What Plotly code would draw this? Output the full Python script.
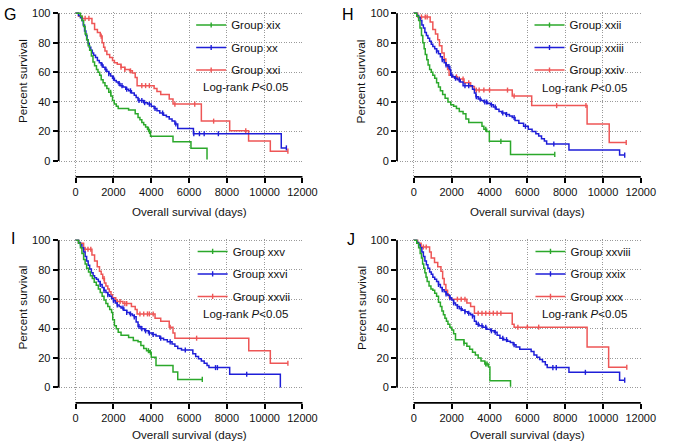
import plotly.graph_objects as go

W, H = 677, 448
FONT = "Liberation Sans, Arial, sans-serif"
GREEN, BLUE, RED = "#2ba82b", "#1e1ed8", "#ee5656"

x_ticks = [0, 2000, 4000, 6000, 8000, 10000, 12000]
y_ticks = [0, 20, 40, 60, 80, 100]
panel_letters = ["G", "H", "I", "J"]
x_title = "Overall survival (days)"
y_title = "Percent survival"
logrank_text = "Log-rank <i>P</i>&lt;0.05"

# ---------------- Panel G ----------------
g_xix_name = "Group xix"
g_xix_t = [0, 250, 330, 420, 500, 580, 660, 740, 830, 915, 1000, 1100, 1180, 1270, 1350, 1450, 1550, 1650, 1750, 1860, 1950, 2040, 2150, 2250, 2800, 3150, 3300, 3400, 3500, 3600, 3700, 3800, 3870, 3960, 5150, 6100, 6950]
g_xix_s = [100, 98, 95, 91, 86, 82, 78, 75, 71, 67, 64.5, 62, 60, 58, 55, 53, 51, 49, 46.5, 44, 41, 38.5, 37, 35.5, 34.5, 32, 29.5, 28, 26, 24.5, 23, 21.5, 20, 16.7, 13, 8.7, 1]
g_xix_end = 6950
g_xix_cens = [1850, 3850, 3910]

g_xx_name = "Group xx"
g_xx_t = [0, 150, 250, 330, 400, 470, 540, 600, 660, 720, 800, 880, 950, 1050, 1150, 1250, 1350, 1450, 1550, 1650, 1750, 1850, 1950, 2050, 2150, 2250, 2350, 2500, 2650, 2800, 2950, 3100, 3200, 3300, 3600, 3800, 4000, 4150, 4300, 4450, 4650, 4800, 4950, 5100, 5250, 5400, 6230, 10880]
g_xx_s = [100, 98.5, 97, 95, 92, 88, 85, 82, 79.5, 77, 75, 73, 71.5, 70, 68, 66.5, 65, 63.5, 62, 60.5, 59, 57.5, 56, 54.5, 53.5, 52.5, 51, 50, 48.5, 47.5, 46, 44.5, 43, 41, 39.5, 38.5, 37, 35.5, 34, 32.5, 31, 30, 28.5, 27, 25, 22, 18.5, 8.9]
g_xx_end = 11150
g_xx_cens = [1400, 1600, 1750, 2000, 2300, 2450, 2700, 2900, 3350, 3500, 3650, 3900, 4200, 4600, 5300, 6250, 6550, 6800, 7550, 11150]

g_xxi_name = "Group xxi"
g_xxi_t = [0, 150, 350, 860, 1000, 1150, 1300, 1400, 1480, 1550, 1650, 1800, 1950, 2050, 2200, 2400, 2600, 2850, 3000, 3150, 3250, 4150, 4300, 4500, 4950, 5150, 6650, 8150, 9150, 10300]
g_xxi_s = [100, 98, 96.5, 93, 89, 87, 84.5, 80, 77, 74.5, 72, 70, 68, 66.5, 65.5, 63.5, 62, 61, 59.5, 56.5, 51, 49, 47, 45, 42, 38.5, 27, 20.5, 13.5, 6.7]
g_xxi_end = 11230
g_xxi_cens = [500, 700, 1350, 2400, 2600, 2900, 3500, 3700, 3900, 5250, 6300, 7300, 9000, 11230]

# ---------------- Panel H ----------------
h_xxii_name = "Group xxii"
h_xxii_t = [0, 150, 250, 320, 400, 470, 540, 600, 680, 750, 830, 920, 1000, 1100, 1200, 1300, 1400, 1520, 1650, 1800, 1950, 2100, 2250, 2400, 2600, 2750, 2900, 3600, 3700, 3850, 3990, 5110]
h_xxii_s = [100, 98, 95, 90, 85, 80, 76, 72, 68.5, 65, 62, 60, 58, 56, 53, 50, 47.5, 45, 42.5, 40, 38, 37, 35.5, 33.5, 32, 28.5, 26, 23.5, 21.5, 20, 13.3, 4.5]
h_xxii_end = 7450
h_xxii_cens = [3800, 4600, 7450]

h_xxiii_name = "Group xxiii"
h_xxiii_t = [0, 150, 250, 330, 420, 500, 580, 660, 740, 830, 920, 1000, 1100, 1200, 1300, 1400, 1500, 1600, 1700, 1800, 1900, 1950, 2050, 2150, 2300, 2450, 2600, 3100, 3200, 3280, 3400, 3550, 3700, 3900, 4050, 4200, 4350, 4500, 4650, 4850, 5050, 5200, 5350, 5550, 5800, 6050, 6250, 6450, 6600, 6750, 6900, 7020, 8200, 10880]
h_xxiii_s = [100, 98.5, 97, 95, 92, 90, 87, 85, 83, 81, 79, 77.5, 76, 74.5, 72.5, 70.5, 68.5, 66.5, 65, 64, 62, 58, 57, 56, 55, 53.5, 51, 48.5, 46, 43.5, 42, 41, 40, 39, 38, 36.5, 35, 33.5, 32.5, 31.5, 30.5, 29.5, 27.5, 25.5, 23.5, 21.5, 20, 18.5, 17, 15, 13.5, 11.5, 7.5, 4]
h_xxiii_end = 11150
h_xxiii_cens = [1200, 1500, 1700, 1850, 2000, 2200, 2400, 2700, 2900, 3300, 3500, 3750, 3850, 4100, 4300, 4700, 4900, 5300, 5900, 7400, 11150]

h_xxiv_name = "Group xxiv"
h_xxiv_t = [0, 200, 860, 1000, 1140, 1260, 1350, 1480, 1600, 1690, 1780, 1860, 2050, 2300, 2650, 3000, 3200, 5200, 6230, 9160, 10330]
h_xxiv_s = [100, 97.5, 94, 89, 86, 82, 78, 73, 69, 65, 62, 58, 57, 55.5, 53, 50.5, 48, 44, 37.5, 25, 12.5]
h_xxiv_end = 11230
h_xxiv_cens = [400, 600, 700, 2250, 2400, 2600, 2900, 3300, 3450, 3700, 4000, 4950, 5300, 7550, 9100, 11230]

# ---------------- Panel I ----------------
i_xxv_name = "Group xxv"
i_xxv_t = [0, 150, 250, 330, 420, 500, 580, 680, 780, 880, 980, 1090, 1200, 1300, 1400, 1500, 1600, 1700, 1800, 1900, 1960, 2050, 2150, 2250, 2400, 2800, 3050, 3300, 3450, 3600, 3750, 3900, 4000, 4250, 5150, 5400]
i_xxv_s = [100, 98, 95, 91, 87, 84, 81, 78.5, 76, 74, 71.5, 69.5, 67, 64.5, 62, 59.5, 57, 55, 53, 51, 46, 42, 40, 37.5, 35.5, 34, 32, 31, 28.5, 26.5, 25, 24, 20.5, 15, 10.5, 5.5]
i_xxv_end = 6700
i_xxv_cens = [3850, 3950, 6700]

i_xxvi_name = "Group xxvi"
i_xxvi_t = [0, 150, 250, 330, 420, 500, 580, 660, 740, 830, 920, 1000, 1100, 1200, 1300, 1400, 1500, 1600, 1700, 1800, 1900, 2000, 2100, 2200, 2300, 2400, 2550, 2700, 2850, 3000, 3100, 3200, 3300, 3450, 3650, 3850, 4050, 4250, 4450, 4650, 4850, 5100, 5250, 5400, 5600, 6200, 6350, 6500, 6650, 6800, 6950, 7050, 8150, 10830]
i_xxvi_s = [100, 98.5, 97, 95, 92, 89, 86, 83, 80.5, 78, 76, 74.5, 73.5, 72, 70, 68, 66, 64.5, 63, 62, 60.5, 59, 57.5, 56, 55, 54, 52.5, 51, 50, 49, 48, 44.5, 41.5, 40, 38.5, 37, 36, 35, 33.5, 32.5, 31, 29.5, 28, 26.5, 25.5, 23, 21, 19.5, 18, 16.5, 15, 13.5, 9, 0]
i_xxvi_end = 10830
i_xxvi_cens = [1300, 1500, 1700, 2000, 2200, 2500, 2700, 2900, 3100, 3350, 3500, 3700, 3900, 4100, 4500, 5000, 5800, 7400, 7500, 9050]

i_xxvii_name = "Group xxvii"
i_xxvii_t = [0, 150, 420, 860, 1000, 1140, 1260, 1350, 1430, 1520, 1600, 1700, 1780, 1870, 1950, 2120, 2500, 2950, 3150, 3250, 4200, 4500, 4950, 5150, 5250, 9160, 10300]
i_xxvii_s = [100, 98, 94, 90, 86, 82, 79, 77, 74, 71, 69, 67, 65, 63, 61, 58.5, 57, 55, 53, 50, 47, 45, 41, 37, 33.5, 25, 16.5]
i_xxvii_end = 11230
i_xxvii_cens = [500, 650, 800, 1500, 2200, 2350, 2600, 2700, 3400, 3600, 3800, 3900, 4100, 5000, 6400, 11230]

# ---------------- Panel J ----------------
j_xxviii_name = "Group xxviii"
j_xxviii_t = [0, 150, 250, 330, 400, 460, 520, 580, 640, 700, 800, 900, 1000, 1100, 1200, 1300, 1400, 1480, 1560, 1640, 1720, 1800, 1900, 2000, 2100, 2200, 2650, 2800, 2950, 3100, 3250, 3400, 3550, 3750, 3950, 4020, 5110]
j_xxviii_s = [100, 98, 95, 91, 88, 84, 81, 78, 75, 72, 69, 67, 66, 64, 62, 58, 55, 52, 49.5, 47, 45, 43, 41, 39, 36.5, 32.5, 30, 28, 26, 24, 22, 20, 18, 16, 14, 4.5, 0.5]
j_xxviii_end = 5110
j_xxviii_cens = [2650, 3800, 3870]

j_xxix_name = "Group xxix"
j_xxix_t = [0, 150, 250, 330, 420, 500, 580, 660, 740, 830, 920, 1000, 1100, 1200, 1300, 1400, 1500, 1600, 1700, 1800, 1900, 2000, 2100, 2200, 2300, 2400, 2550, 2700, 2850, 3000, 3100, 3200, 3300, 3450, 3650, 3850, 4050, 4250, 4400, 4550, 4750, 4950, 5100, 5250, 5400, 5600, 6200, 6350, 6500, 6650, 6800, 6950, 7050, 8200, 10880]
j_xxix_s = [100, 98.5, 97, 95, 92, 89, 86, 83.5, 81, 78.5, 77, 75, 73.5, 72, 70, 68, 66.5, 65, 63.5, 62.5, 61, 59.5, 57.5, 56, 55, 53.5, 52.5, 51.5, 50.5, 49.5, 48.5, 45, 43, 42, 41, 39.5, 38.5, 37.5, 35.5, 33.5, 32.5, 31.5, 30.5, 29, 27.5, 26, 24.5, 22, 20.5, 19, 17.5, 15.5, 13.5, 10.3, 5]
j_xxix_end = 11150
j_xxix_cens = [1300, 1500, 1700, 1900, 2100, 2300, 2500, 2700, 2900, 3100, 3400, 3600, 3800, 4100, 4300, 4700, 4900, 5300, 7350, 7530, 9070, 11150]

j_xxx_name = "Group xxx"
j_xxx_t = [0, 200, 380, 830, 915, 1090, 1260, 1430, 1520, 1600, 1690, 1780, 1870, 1950, 2800, 3000, 3200, 5200, 5300, 9160, 10300]
j_xxx_s = [100, 98, 95.5, 92, 88, 85, 82, 79, 74, 70, 66, 63, 61, 60, 57.5, 55, 50.5, 43, 41, 27.5, 13.8]
j_xxx_end = 11260
j_xxx_cens = [500, 650, 2300, 2500, 2700, 3400, 3600, 3800, 4000, 4200, 4400, 4600, 5500, 6000, 6600, 11260]

panels = [
    [(g_xix_name, g_xix_t, g_xix_s, g_xix_end, g_xix_cens, GREEN),
     (g_xx_name, g_xx_t, g_xx_s, g_xx_end, g_xx_cens, BLUE),
     (g_xxi_name, g_xxi_t, g_xxi_s, g_xxi_end, g_xxi_cens, RED)],
    [(h_xxii_name, h_xxii_t, h_xxii_s, h_xxii_end, h_xxii_cens, GREEN),
     (h_xxiii_name, h_xxiii_t, h_xxiii_s, h_xxiii_end, h_xxiii_cens, BLUE),
     (h_xxiv_name, h_xxiv_t, h_xxiv_s, h_xxiv_end, h_xxiv_cens, RED)],
    [(i_xxv_name, i_xxv_t, i_xxv_s, i_xxv_end, i_xxv_cens, GREEN),
     (i_xxvi_name, i_xxvi_t, i_xxvi_s, i_xxvi_end, i_xxvi_cens, BLUE),
     (i_xxvii_name, i_xxvii_t, i_xxvii_s, i_xxvii_end, i_xxvii_cens, RED)],
    [(j_xxviii_name, j_xxviii_t, j_xxviii_s, j_xxviii_end, j_xxviii_cens, GREEN),
     (j_xxix_name, j_xxix_t, j_xxix_s, j_xxix_end, j_xxix_cens, BLUE),
     (j_xxx_name, j_xxx_t, j_xxx_s, j_xxx_end, j_xxx_cens, RED)],
]

# ---------------- layout geometry (pixels) ----------------
# (y-axis line x, x=0 px, x=12000 px, y=100 px, y=0 px, x-axis line y)
geom = [
    (60.0, 77.4, 309.3, 8.3, 157.8, 173.8),
    (406.0, 423.3, 655.3, 8.3, 157.8, 173.8),
    (60.0, 77.4, 309.3, 238.0, 386.8, 402.3),
    (406.0, 423.3, 655.3, 238.0, 386.8, 402.3),
]
letter_pos = [(2, 10), (348, 10), (9, 236), (353, 237)]
ytitle_pos = [(23.5, 77), (369.5, 77), (23.5, 306), (369.5, 306)]
xtitle_py = [209, 209, 434.5, 434.5]
logrank_pos = [(205.7, 83), (552, 83.5), (205.7, 312.5), (552, 312)]
legend_pos = [(195.5, 5.5), (541.5, 5.5), (197.0, 234.5), (542.5, 234.5)]


def step_value(ts, ss, c):
    v = ss[0]
    for t, s in zip(ts, ss):
        if t <= c:
            v = s
        else:
            break
    return v


fig = go.Figure()
layout = {}
shapes = []
annotations = []

for k, groups in enumerate(panels):
    sfx = "" if k == 0 else str(k + 1)
    xa, ya = "x" + sfx, "y" + sfx
    leg = "legend" + sfx
    ypx_axis, x0px, x12px, y100px, y0px, xaxpx = geom[k]
    kx = (x12px - x0px) / 12000.0
    ky = (y0px - y100px) / 100.0
    xr = [-(x0px - ypx_axis) / kx, 12040]
    yr = [-(xaxpx - y0px) / ky, 100.8]
    xdom = [ypx_axis / W, (x0px + 12040 * kx) / W]
    ydom = [1 - xaxpx / H, 1 - (y100px - 0.8 * ky) / H]

    axis_common = dict(
        showline=False, zeroline=False, ticks="outside", ticklen=5,
        tickwidth=1.6, tickcolor="black", showgrid=True,
        gridcolor="#9a9a9a", gridwidth=1, griddash="1px,1.5px",
        tickfont=dict(family=FONT, size=11, color="#111"),
        fixedrange=True,
    )
    layout["xaxis" + sfx] = dict(axis_common, domain=xdom, range=xr, anchor=ya,
                                 tickvals=x_ticks, ticktext=[str(v) for v in x_ticks])
    layout["yaxis" + sfx] = dict(axis_common, domain=ydom, range=yr, anchor=xa,
                                 tickvals=y_ticks, ticktext=[str(v) for v in y_ticks])

    # draw order: red, blue, green (green on top)
    for name, ts, ss, end, cens, col in reversed(groups):
        xs = list(ts)
        ys = list(ss)
        if end > ts[-1]:
            xs.append(end)
            ys.append(ss[-1])
        fig.add_trace(go.Scatter(
            x=xs, y=ys, mode="lines", line=dict(color=col, width=1.5, shape="hv"),
            xaxis=xa, yaxis=ya, showlegend=False, hoverinfo="skip"))
        fig.add_trace(go.Scatter(
            x=cens, y=[step_value(ts, ss, c) for c in cens], mode="markers",
            marker=dict(symbol="line-ns-open", size=3.6, color=col,
                        line=dict(color=col, width=1.4)),
            xaxis=xa, yaxis=ya, showlegend=False, hoverinfo="skip", cliponaxis=False))
    # legend entries
    for name, ts, ss, end, cens, col in groups:
        fig.add_trace(go.Scatter(
            x=[None], y=[None], mode="lines+markers", name=name,
            line=dict(color=col, width=1.5),
            marker=dict(symbol="line-ns-open", size=3.6, color=col,
                        line=dict(color=col, width=1.4)),
            xaxis=xa, yaxis=ya, legend=leg, legendgroup=name + sfx))
    lx, ly = legend_pos[k]
    layout[leg] = dict(
        x=lx / W, y=1 - ly / H, xanchor="left", yanchor="top",
        bgcolor="rgba(0,0,0,0)", borderwidth=0, traceorder="grouped",
        tracegroupgap=3.5, font=dict(family=FONT, size=11.5, color="#111"),
        itemclick=False, itemdoubleclick=False)

    # offset axis lines (Prism style)
    xdref = xa + " domain"
    ydref = ya + " domain"
    shapes.append(dict(type="line", xref=xdref, x0=0, x1=0, yref=ya, y0=0, y1=100,
                       line=dict(color="black", width=1.8)))
    shapes.append(dict(type="line", xref=xa, x0=0, x1=12000, yref=ydref, y0=0, y1=0,
                       line=dict(color="black", width=1.8)))

    # texts
    px_, py_ = letter_pos[k]
    annotations.append(dict(text=panel_letters[k], x=px_ / W, y=1 - py_ / H,
                            xref="paper", yref="paper", xanchor="left", yanchor="middle",
                            showarrow=False, font=dict(family=FONT, size=16, color="black")))
    tx, ty = ytitle_pos[k]
    annotations.append(dict(text=y_title, x=tx / W, y=1 - ty / H, xref="paper", yref="paper",
                            xanchor="center", yanchor="middle", textangle=-90, showarrow=False,
                            font=dict(family=FONT, size=11.8, color="#111")))
    annotations.append(dict(text=x_title, x=6000, xref=xa, y=1 - xtitle_py[k] / H, yref="paper",
                            xanchor="center", yanchor="middle", showarrow=False,
                            font=dict(family=FONT, size=11.6, color="#111")))
    gx, gy = logrank_pos[k]
    annotations.append(dict(text=logrank_text, x=gx / W, y=1 - gy / H, xref="paper", yref="paper",
                            xanchor="left", yanchor="middle", showarrow=False,
                            font=dict(family=FONT, size=11.5, color="#111")))

fig.update_layout(
    width=W, height=H, margin=dict(l=0, r=0, t=0, b=0),
    paper_bgcolor="white", plot_bgcolor="white",
    font=dict(family=FONT, color="#111"),
    shapes=shapes, annotations=annotations, **layout)

fig.write_html("out.html", config={"displayModeBar": False},
               post_script="document.body.style.margin='0px';document.body.style.overflow='hidden';")
